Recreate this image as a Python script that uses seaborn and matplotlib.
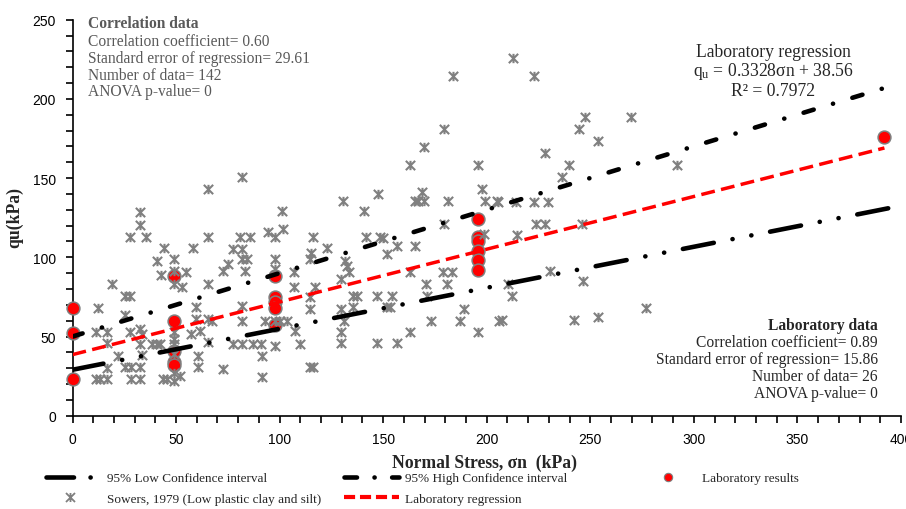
import matplotlib
matplotlib.use("Agg")
import matplotlib.pyplot as plt
from matplotlib.path import Path
from matplotlib.lines import Line2D
from matplotlib.ticker import MultipleLocator
import seaborn as sns

# ---------------- data ----------------
sowers_stress = [
    12.5, 11.4, 16.5, 16.5, 16.5, 11.4, 13.3, 16.5, 18.9, 22.1,
    25.4, 27.8, 25.4, 27.8, 25.4, 28.3, 32.6, 28.3, 32.6, 32.6,
    32.6, 27.8, 35.5, 32.6, 33.4, 32.6, 33.4, 38.2, 40.7, 42.3,
    44.2, 40.9, 42.6, 43.9, 45.5, 49.2, 49.2, 54.8, 49.2, 52.7,
    49.2, 49.2, 49.2, 49.2, 49.2, 51.7, 49.2, 58.1, 59.7, 57.2,
    61.6, 60.5, 60.5, 65.6, 65.6, 65.6, 59.5, 65.6, 67.5, 65.6,
    72.9, 72.9, 75.3, 77.7, 81.7, 81.7, 80.9, 85.7, 81.7, 84.1,
    83.3, 81.7, 81.7, 77.7, 81.7, 87.0, 90.9, 91.4, 91.4, 94.6,
    97.8, 101.0, 101.8, 97.8, 97.8, 93.0, 97.8, 100.2, 103.5, 97.8,
    163.0, 195.7, 197.6, 199.2, 204.9, 168.7, 165.4, 167.0, 169.5, 181.2,
    147.7, 130.5, 140.5, 115.9, 123.1, 115.2, 114.7, 141.8, 148.6, 150.0,
    151.7, 156.6, 165.4, 179.3, 131.8, 132.5, 133.4, 129.7, 107.0, 107.0,
    117.2, 114.7, 114.7, 107.5, 110.0, 114.7, 116.3, 129.7, 130.9, 129.7,
    129.7, 135.4, 137.3, 135.2, 147.2, 147.2, 154.4, 151.7, 153.4, 156.6,
    163.0, 163.0, 170.6, 171.1, 173.1, 178.9, 183.2, 180.8, 188.8, 187.2,
    195.7, 198.8, 205.7,
    183.5, 179.5, 169.8, 212.6, 222.6, 247.3, 244.7, 269.8, 253.5, 228.3,
    239.8, 236.3, 291.9, 205.2, 214.2, 222.6, 229.8, 223.9, 228.3, 245.9,
    214.5, 230.3, 210.5, 212.2, 246.4, 207.3, 242.3, 253.5, 276.8,
]
sowers_qu = [
    67.8, 52.6, 52.6, 45.7, 30.1, 23.2, 23.2, 23.2, 83.1, 37.5,
    75.8, 75.8, 63.8, 52.6, 30.5, 30.5, 30.5, 23.2, 23.2, 128.4,
    120.4, 113.0, 113.0, 54.7, 51.5, 45.3, 38.5, 45.3, 45.3, 45.3,
    105.7, 97.5, 88.8, 23.2, 23.2, 98.9, 91.5, 91.0, 83.1, 81.4,
    52.6, 48.4, 45.3, 39.0, 27.0, 25.3, 21.7, 105.7, 68.4, 51.5,
    53.2, 37.5, 30.5, 143.1, 113.0, 83.1, 61.0, 61.0, 59.5, 46.6,
    29.5, 91.5, 95.5, 105.3, 105.3, 150.5, 113.0, 113.0, 98.9, 98.9,
    91.5, 69.2, 60.0, 45.3, 45.3, 45.3, 45.3, 37.7, 24.2, 115.8,
    113.0, 129.4, 117.6, 98.9, 92.6, 60.0, 60.0, 60.0, 60.0, 43.8,
    158.5, 158.5, 143.1, 135.7, 135.7, 141.0, 135.7, 135.7, 135.7, 135.7,
    140.0, 135.7, 129.4, 113.0, 105.9, 102.7, 98.9, 113.0, 113.0, 112.0,
    102.1, 107.3, 107.3, 121.0, 97.9, 94.6, 90.5, 86.3, 90.8, 81.0,
    81.0, 74.7, 67.4, 53.7, 45.3, 30.5, 30.5, 67.4, 60.0, 52.6,
    45.7, 75.8, 75.8, 68.4, 75.8, 45.7, 75.8, 68.4, 68.4, 45.7,
    53.0, 90.5, 83.1, 75.8, 60.0, 90.8, 90.8, 83.1, 67.4, 60.0,
    53.0, 114.4, 60.0,
    214.6, 181.0, 169.4, 225.8, 214.6, 188.4, 181.0, 188.4, 173.2, 165.8,
    158.3, 150.9, 158.3, 135.1, 135.1, 135.1, 135.1, 121.0, 121.0, 121.0,
    114.1, 91.2, 83.1, 75.8, 84.8, 60.4, 60.4, 62.5, 68.0,
]

lab_stress = [0, 0, 0, 49, 49, 49, 49, 49, 98, 98, 98, 98, 98,
              196, 196, 196, 196, 196, 196, 392]
lab_qu = [23, 52, 68, 88, 60, 41, 34, 32, 88, 75, 72, 68, 57,
          124, 113, 110, 104, 98, 92, 176]

reg_stress = [0, 392]
reg_qu = [38.56, 169.02]
low_ci_stress = [0, 396]
low_ci_qu = [29.0, 131.5]
high_ci_stress = [0, 396]
high_ci_qu = [50.0, 208.5]

# ---------------- style ----------------
sns.set_style("ticks")
plt.rcParams.update({
    "font.family": ["Liberation Serif", "DejaVu Serif"],
    "mathtext.fontset": "custom",
    "mathtext.rm": "Liberation Serif",
    "mathtext.it": "Liberation Serif:italic",
    "mathtext.bf": "Liberation Serif:bold",
    "lines.scale_dashes": False,
})

W, H = 906, 510
fig = plt.figure(figsize=(W / 100, H / 100), dpi=100)
x0, x1, y0, y1 = 72.5, 901.0, 416.7, 20.7
ax = fig.add_axes([x0 / W, 1 - y0 / H, (x1 - x0) / W, (y0 - y1) / H])

star = Path([(-1, -1), (1, 1), (-1, 1), (1, -1), (0, -1.0), (0, 1.0)],
            [Path.MOVETO, Path.LINETO, Path.MOVETO, Path.LINETO,
             Path.MOVETO, Path.LINETO])

low_ls = (0, (22.7, 13.7, 0.1, 13.7, 0.1, 13.7))
high_ls = (0, (7.6, 14.5, 0.1, 14.5))
reg_ls = (0, (10.0, 4.6))

sns.scatterplot(x=lab_stress, y=lab_qu, ax=ax, s=85, color="#ff0000",
                edgecolor="#7f7f7f", linewidth=1.1, zorder=3, clip_on=False,
                legend=False)
sns.scatterplot(x=sowers_stress, y=sowers_qu, ax=ax, marker=star, s=45,
                color="#808080", edgecolor="#808080", linewidth=1.5,
                zorder=4, legend=False)

sns.lineplot(x=low_ci_stress, y=low_ci_qu, ax=ax, color="black", lw=3.3,
             linestyle=low_ls, dash_capstyle="round", zorder=5)
sns.lineplot(x=high_ci_stress, y=high_ci_qu, ax=ax, color="black", lw=3.3,
             linestyle=high_ls, dash_capstyle="round", zorder=5)
sns.lineplot(x=reg_stress, y=reg_qu, ax=ax, color="#ff0000", lw=2.5,
             linestyle=reg_ls, dash_capstyle="butt", zorder=6)

ax.set_xlim(0, 400)
ax.set_ylim(0, 250)
ax.xaxis.set_major_locator(MultipleLocator(50))
ax.xaxis.set_minor_locator(MultipleLocator(10))
ax.yaxis.set_major_locator(MultipleLocator(50))
ax.yaxis.set_minor_locator(MultipleLocator(10))
ax.tick_params(which="both", direction="out", length=5, width=1.2,
               color="black", pad=7)
ax.tick_params(which="major", labelsize=10, labelcolor="black")
for lab in ax.get_xticklabels() + ax.get_yticklabels():
    lab.set_fontfamily("Liberation Sans")
sns.despine(ax=ax)
for sp in ("left", "bottom"):
    ax.spines[sp].set_linewidth(1.2)
    ax.spines[sp].set_color("black")
ax.grid(False)

ax.set_xlabel("Normal Stress, σn  (kPa)", fontsize=12.7, fontweight="bold")
ax.set_ylabel("qu(kPa)", fontsize=12.7, fontweight="bold")
ax.xaxis.set_label_coords((485 - x0) / (x1 - x0), -(463 - y0) / (y0 - y1))
ax.xaxis.label.set_va("center")
ax.yaxis.set_label_coords((15 - x0) / (x1 - x0), (y0 - 218) / (y0 - y1))
ax.yaxis.label.set_va("center")


def ftext(px, py, s, **kw):
    fig.text(px / W, 1 - py / H, s, va="center", **kw)


gray_txt = "#595959"
ftext(88, 24, "Correlation data", fontsize=11.2, fontweight="bold", color=gray_txt)
for py, s in [(41.7, "Correlation coefficient= 0.60"),
              (59.3, "Standard error of regression= 29.61"),
              (76.0, "Number of data= 142"),
              (92.5, "ANOVA p-value= 0")]:
    ftext(88, py, s, fontsize=11.2, color=gray_txt)

ftext(773, 52.7, "Laboratory regression", fontsize=12.7, ha="center")
ftext(773, 72.0, r"q$_{\mathregular{u}}$ = 0.3328σn + 38.56", fontsize=12.7, ha="center")
ftext(773, 92.0, "R² = 0.7972", fontsize=12.7, ha="center")

ftext(878, 326, "Laboratory data", fontsize=11.2, fontweight="bold", ha="right")
for py, s in [(343.3, "Correlation coefficient= 0.89"),
              (360.3, "Standard error of regression= 15.86"),
              (377.0, "Number of data= 26"),
              (394.0, "ANOVA p-value= 0")]:
    ftext(878, py, s, fontsize=11.2, ha="right")

# ---------------- legend ----------------
h_low = Line2D([], [], color="black", lw=3.3, linestyle=(0, (19.8, 11.9, 0.1, 30)),
               dash_capstyle="round")
h_sow = Line2D([], [], color="#808080", lw=0, marker=star, markersize=6.5,
               markeredgewidth=1.3, markeredgecolor="#808080")
h_high = Line2D([], [], color="black", lw=3.3, linestyle=(0, (9.0, 12.6, 0.1, 12.6)),
                dash_capstyle="round")
h_reg = Line2D([], [], color="#ff0000", lw=3.0, linestyle=(0, (8.0, 3.5)))
h_lab = Line2D([], [], color="#ff0000", lw=0, marker="o", markersize=6,
               markeredgecolor="#7f7f7f", markeredgewidth=0.8)

leg_kw = dict(frameon=False, fontsize=9.5, borderpad=0, borderaxespad=0,
              labelspacing=0.62, loc="upper left")
fig.legend([h_low, h_sow], ["95% Low Confidence interval",
                            "Sowers, 1979 (Low plastic clay and silt)"],
           bbox_to_anchor=(46 / W, 1 - 473 / H), handlelength=3.7,
           handletextpad=0.9, **leg_kw)
fig.legend([h_high, h_reg], ["95% High Confidence interval",
                             "Laboratory regression"],
           bbox_to_anchor=(344 / W, 1 - 473 / H), handlelength=4.2,
           handletextpad=0.45, **leg_kw)
fig.legend([h_lab], ["Laboratory results"],
           bbox_to_anchor=(655 / W, 1 - 473 / H), handlelength=2.0,
           handletextpad=1.6, **leg_kw)

fig.savefig("out.png", dpi=100)
